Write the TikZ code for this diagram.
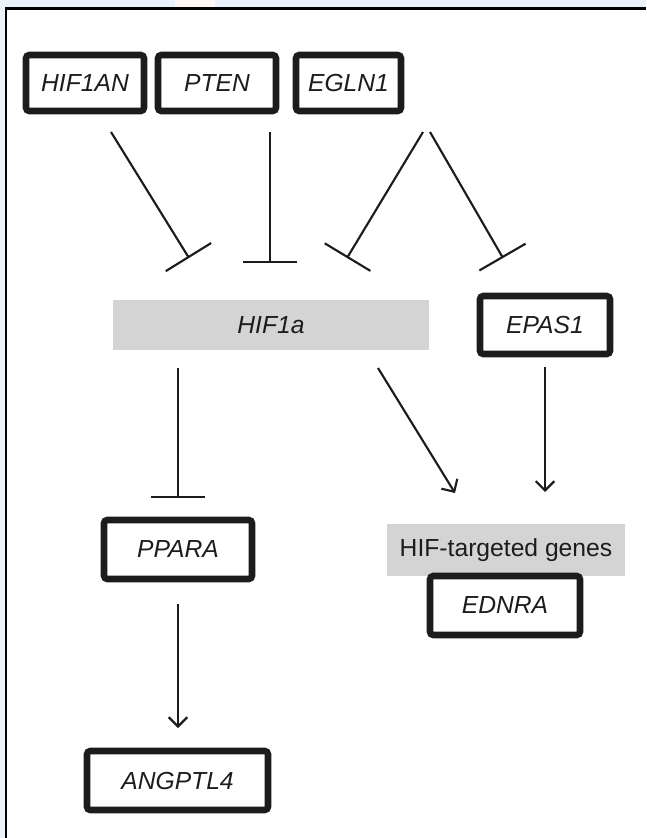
\documentclass[tikz,border=0pt]{standalone}
\usepackage{fontspec}
\setmainfont{Liberation Sans}
\usetikzlibrary{arrows.meta,calc}
\definecolor{framebg}{HTML}{EAF3FB}
\definecolor{boxgray}{HTML}{D4D4D4}
\definecolor{ink}{HTML}{1C1C1C}
\tikzset{
  gene/.style={draw=ink, line width=4.9pt, rounded corners=2.5pt, fill=white,
    inner sep=0pt, outer sep=0pt, font=\fontsize{18.5pt}{20pt}\selectfont\itshape, text=ink},
  graybox/.style={fill=boxgray, draw=none, inner sep=0pt, outer sep=0pt, text=ink},
  inh/.style={draw=ink, line width=1.6pt, -{Bar[width=40pt,line width=1.6pt]}},
  act/.style={draw=ink, line width=1.6pt, -{Straight Barb[length=7pt,width=14pt,line width=1.6pt]}},
}
\begin{document}
\begin{tikzpicture}[x=0.75pt,y=-0.75pt]
\useasboundingbox (0,0) rectangle (646,838);
% page frame
\fill[framebg] (0,0) rectangle (646,7);
\fill[framebg] (0,0) rectangle (5,838);
\fill[pink!15] (175,0) rectangle (215,7);
\draw[black, line width=1.6pt] (6,838) -- (6,8.5) -- (646,8.5);

% top regulators
\node[gene, minimum width={118*0.75pt}, minimum height={56*0.75pt}] (hif1an) at (85,83) {HIF1AN};
\node[gene, minimum width={118*0.75pt}, minimum height={56*0.75pt}] (pten) at (217,83) {PTEN};
\node[gene, minimum width={105*0.75pt}, minimum height={56*0.75pt}] (egln1) at (348.5,83) {EGLN1};

% middle
\node[graybox, minimum width={316*0.75pt}, minimum height={50*0.75pt},
  font=\fontsize{18.5pt}{20pt}\selectfont\itshape] (hif1a) at (271,325) {HIF1a};
\node[gene, minimum width={130*0.75pt}, minimum height={58*0.75pt}] (epas1) at (545,325) {EPAS1};

% lower
\node[gene, minimum width={148*0.75pt}, minimum height={59*0.75pt}] (ppara) at (178,549.5) {PPARA};
\node[graybox, minimum width={238*0.75pt}, minimum height={52*0.75pt},
  font=\fontsize{18.5pt}{20pt}\selectfont] (hifgenes) at (506,550) {HIF-targeted genes};
\node[gene, minimum width={150*0.75pt}, minimum height={59*0.75pt}] (ednra) at (505,605.5) {EDNRA};
\node[gene, minimum width={181*0.75pt}, minimum height={59*0.75pt}] (angptl4) at (177.5,780.5) {ANGPTL4};

% inhibitions from the top
\draw[inh] ($(hif1an.center)+(26,49)$) -- ($(hif1a.center)+(-82,-67)$);
\draw[inh] ($(pten.center)+(53,49)$) -- ($(hif1a.center)+(-1,-62)$);
\draw[inh] ($(egln1.center)+(74.5,49)$) -- ($(hif1a.center)+(76,-67)$);
\draw[inh] ($(egln1.center)+(81.5,49)$) -- ($(epas1.center)+(-42,-67)$);

% from HIF1a
\draw[inh] ($(hif1a.center)+(-93,43)$) -- ($(ppara.center)+(0,-51.5)$);
\draw[act] ($(hif1a.center)+(107,43)$) -- ($(hifgenes.center)+(-51,-57)$);
\draw[act] ($(epas1.center)+(0,42)$) -- ($(hifgenes.center)+(39,-58)$);
\draw[act] ($(ppara.center)+(0,54.5)$) -- ($(angptl4.center)+(0.5,-52.5)$);
\end{tikzpicture}
\end{document}
